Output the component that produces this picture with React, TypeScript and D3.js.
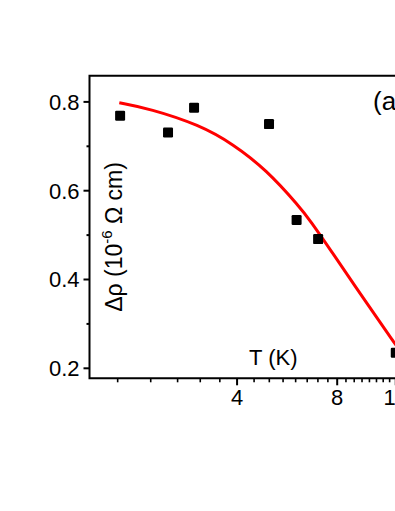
import * as d3 from "d3";

// measured points, T in K, delta rho in 1e-6 ohm cm
const tempK = [1.78, 2.48, 2.97, 4.99, 6.04, 7.01, 12.0];
const deltaRho = [0.769, 0.731, 0.787, 0.75, 0.534, 0.491, 0.235];

// red fit curve
const fitT = [1.77, 2.18, 3.09, 3.89, 4.9, 6.16, 6.62, 7.76, 9.77, 11.9, 12.8];
const fitRho = [0.798, 0.785, 0.748, 0.705, 0.647, 0.564, 0.534, 0.459, 0.349, 0.256, 0.224];

const xMajor = [4, 8, 12];
const xMinor = [1.75, 2.2, 2.65, 3.1, 3.55, 4.5, 5, 5.5, 6, 6.5, 7, 7.5, 8.5, 9, 9.5, 10, 10.5, 11, 11.5, 12.5, 13, 13.5, 14, 14.5];
const yMajor = [0.2, 0.4, 0.6, 0.8];
const yMinor = [0.3, 0.5, 0.7];

const font = "Arial, 'Liberation Sans', sans-serif";

export default function App() {
  const width = 395;
  const height = 511;
  const left = 89.5;
  const right = 428;
  const top = 75.7;
  const bottom = 378.3;

  const x = d3.scaleLog().domain([1.44, 15]).range([left, right]);
  const y = d3.scaleLinear().domain([0.1775, 0.859]).range([bottom, top]);

  const line = d3
    .line<number>()
    .x((d) => x(fitT[d]))
    .y((d) => y(fitRho[d]))
    .curve(d3.curveBasis);

  return (
    <div style={{ position: "absolute", left: 0, top: 0 }}>
      <svg width={width} height={height} style={{ display: "block", background: "white" }}>
        <rect x={0} y={0} width={width} height={height} fill="white" />

        {/* frame */}
        <path
          d={`M${left},${top}H${right}V${bottom}H${left}Z`}
          fill="none"
          stroke="black"
          strokeWidth={2}
        />

        {/* y ticks */}
        {yMajor.map((v) => (
          <g key={`ym${v}`}>
            <line x1={left - 6} x2={left} y1={y(v)} y2={y(v)} stroke="black" strokeWidth={2} />
            <text
              x={left - 10}
              y={y(v)}
              dy="0.36em"
              textAnchor="end"
              fontFamily={font}
              fontSize={22}
            >
              {v.toFixed(1)}
            </text>
          </g>
        ))}
        {yMinor.map((v) => (
          <line key={`yn${v}`} x1={left - 3} x2={left} y1={y(v)} y2={y(v)} stroke="black" strokeWidth={2} />
        ))}

        {/* x ticks */}
        {xMajor.map((v) => (
          <g key={`xm${v}`}>
            <line x1={x(v)} x2={x(v)} y1={bottom} y2={bottom + 7} stroke="black" strokeWidth={2} />
            <text
              x={x(v)}
              y={bottom + 27}
              textAnchor="middle"
              fontFamily={font}
              fontSize={22}
            >
              {v}
            </text>
          </g>
        ))}
        {xMinor.map((v) => (
          <line key={`xn${v}`} x1={x(v)} x2={x(v)} y1={bottom} y2={bottom + 4} stroke="black" strokeWidth={1.6} />
        ))}

        {/* fit */}
        <path
          d={line(d3.range(fitT.length)) ?? ""}
          fill="none"
          stroke="#ff0000"
          strokeWidth={3}
        />

        {/* points */}
        {tempK.map((t, i) => (
          <rect
            key={`p${i}`}
            x={x(t) - 5}
            y={y(deltaRho[i]) - 5}
            width={10}
            height={10}
            rx={1.2}
            fill="black"
          />
        ))}

        {/* labels */}
        <text x={249} y={365} fontFamily={font} fontSize={22}>
          T (K)
        </text>
        <text x={373} y={110} fontFamily={font} fontSize={26}>
          (a)
        </text>
        <text
          transform="translate(122,237) rotate(-90)"
          textAnchor="middle"
          fontFamily={font}
          fontSize={23}
        >
          Δρ (10
          <tspan fontSize={15} dy={-10}>
            -6
          </tspan>
          <tspan dy={10}> Ω cm)</tspan>
        </text>
      </svg>
    </div>
  );
}
